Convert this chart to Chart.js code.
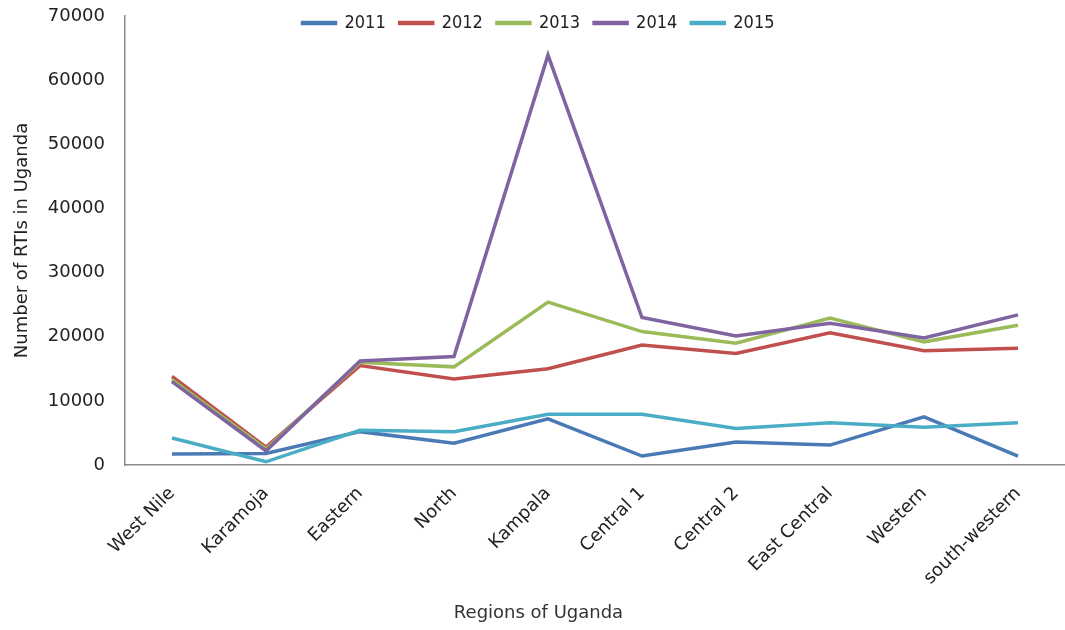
<!DOCTYPE html>
<html>
<head>
<meta charset="utf-8">
<title>RTIs in Uganda by region</title>
<script src="https://cdn.jsdelivr.net/npm/chart.js"></script>
<style>
  html, body { margin: 0; padding: 0; background: #fff; }
  #wrap { width: 1065px; height: 630px; }
</style>
</head>
<body>
<div id="wrap"><canvas id="rtiChart" width="1065" height="630"></canvas></div>
<script>
const regions = ['West Nile', 'Karamoja', 'Eastern', 'North', 'Kampala',
  'Central 1', 'Central 2', 'East Central', 'Western', 'south-western'];

const rti2011 = [1700, 1800, 5200, 3400, 7200, 1400, 3600, 3100, 7500, 1400];
const rti2012 = [13800, 2800, 15500, 13400, 15000, 18700, 17400, 20600, 17800, 18200];
const rti2013 = [13300, 2500, 16000, 15300, 25400, 20800, 19000, 22900, 19200, 21800];
const rti2014 = [13000, 2200, 16200, 16900, 63900, 23000, 20100, 22100, 19800, 23400];
const rti2015 = [4200, 500, 5400, 5200, 7900, 7900, 5700, 6600, 5900, 6600];

const years = ['2011', '2012', '2013', '2014', '2015'];
const yearValues = [rti2011, rti2012, rti2013, rti2014, rti2015];
const yearColors = ['#4a7ab5', '#c0504d', '#9bbb59', '#8064a2', '#4bacc6'];

Chart.defaults.font.family = 'DejaVu Sans';
Chart.defaults.font.size = 17;
Chart.defaults.color = '#333';

// legend sits inside the plot, so it must not push the plot down
const legendInPlot = {
  id: 'legendInPlot',
  beforeInit(chart) {
    const lg = chart.legend;
    if (!lg) return;
    const fit = lg.fit;
    lg.fit = function () {
      fit.call(this);
      this.height = 16;
    };
    if (typeof lg._draw === 'function') {
      lg.draw = function () { if (this.options.display) this._draw(); };
    }
  }
};

const datasets = years.map((y, i) => ({
  label: y,
  data: yearValues[i],
  borderColor: yearColors[i],
  backgroundColor: yearColors[i],
  borderWidth: 3.5,
  pointRadius: 0,
  tension: 0,
  fill: false,
  order: years.length - i   // later years drawn on top
}));

new Chart(document.getElementById('rtiChart'), {
  type: 'line',
  data: { labels: regions, datasets: datasets },
  plugins: [legendInPlot],
  options: {
    responsive: false,
    animation: false,
    layout: { padding: { left: 12, right: 0, top: 0, bottom: 0 } },
    plugins: {
      legend: {
        position: 'top',
        labels: {
          boxWidth: 33,
          boxHeight: 1,
          padding: 14,
          color: '#222',
          font: { family: 'DejaVu Sans Condensed', size: 18 },
          sort: (a, b) => a.datasetIndex - b.datasetIndex
        }
      },
      title: {
        display: true,
        position: 'bottom',
        text: 'Regions of Uganda',
        color: '#333',
        font: { size: 18, weight: 'normal' },
        padding: { top: 0, bottom: 6 }
      },
      tooltip: { enabled: false }
    },
    scales: {
      x: {
        offset: true,
        grid: { display: false, drawTicks: false },
        border: { display: true, color: '#8c8c8c', width: 1.5 },
        ticks: { autoSkip: false, minRotation: 45, maxRotation: 45, padding: 18, color: '#222', font: { size: 18 } },
        afterFit: s => { s.height = 630 - 465 - 27.6; }
      },
      y: {
        min: 0,
        max: 70000,
        grid: { display: false, drawTicks: false },
        border: { display: true, color: '#8c8c8c', width: 1.5 },
        ticks: { stepSize: 10000, padding: 20, color: '#222', font: { size: 18 }, callback: v => String(v) },
        title: {
          display: true,
          text: 'Number of RTIs in Uganda',
          color: '#222',
          font: { size: 18 },
          padding: { top: 0, bottom: 0 }
        },
        afterFit: s => {
          s.width = 113;
          // tick padding should only push labels sideways, not the top of the plot
          s.paddingTop = 10;
          s.paddingBottom = 10;
        }
      }
    }
  }
});
</script>
</body>
</html>
